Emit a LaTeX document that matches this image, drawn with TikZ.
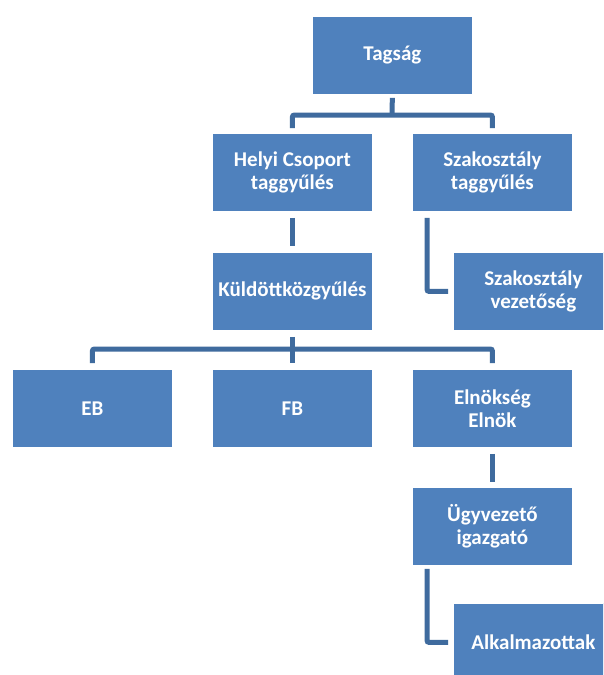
\documentclass[tikz,border=0pt]{standalone}
\usepackage{fontspec}
\setmainfont{Carlito}
\definecolor{boxblue}{HTML}{4F81BD}
\definecolor{linkblue}{HTML}{3F6B9E}
\begin{document}
\begin{tikzpicture}[x=1pt,y=-1pt,
  box/.style={rectangle, fill=boxblue, draw=white, line width=0.8pt, minimum width=160pt, minimum height=78pt,
    inner sep=0pt, align=center, text=white, anchor=north west,
    font=\fontsize{21}{23}\selectfont\bfseries},
  conn/.style={draw=linkblue, line width=5pt, rounded corners=2pt}]
\clip (0,0) rectangle (603,675);
\fill[white] (0,0) rectangle (603,675);
\node[box] (tag)  at (312,16)  {Tagság};
\node[box] (hely) at (212,133) {Helyi Csoport\\taggyűlés};
\node[box] (szak) at (412,133) {Szakosztály\\taggyűlés};
\node[box] (kuld) at (212,252) {Küldöttközgyűlés};
\node[box] (szv)  at (453,252) {Szakosztály\\vezetőség};
\node[box] (eb)   at (12,369)  {EB};
\node[box] (fb)   at (212,369) {FB};
\node[box] (eln)  at (412,369) {Elnökség\\Elnök};
\node[box] (ugy)  at (412,487) {Ügyvezető\\igazgató};
\node[box] (alk)  at (453,603) {Alkalmazottak};
\coordinate (b1) at (392,115);
\coordinate (b2) at (292,349);
\draw[conn, shorten <=3pt] (tag.south) -- (b1);
\draw[conn, shorten <=5pt, shorten >=5pt] (hely.north) |- (b1) -| (szak.north);
\draw[conn, shorten <=6pt, shorten >=6pt] (hely.south) -- (kuld.north);
\draw[conn, shorten <=6pt, shorten >=5pt] ([xshift=15pt]szak.south west) |- (szv.west);
\draw[conn, shorten <=6pt, shorten >=6pt] (kuld.south) -- (fb.north);
\draw[conn, shorten <=6pt, shorten >=6pt] (eb.north) |- (b2) -| (eln.north);
\draw[conn, shorten <=6pt, shorten >=5pt] (eln.south) -- (ugy.north);
\draw[conn, shorten <=3pt, shorten >=5pt] ([xshift=15pt]ugy.south west) |- (alk.west);
\end{tikzpicture}
\end{document}
